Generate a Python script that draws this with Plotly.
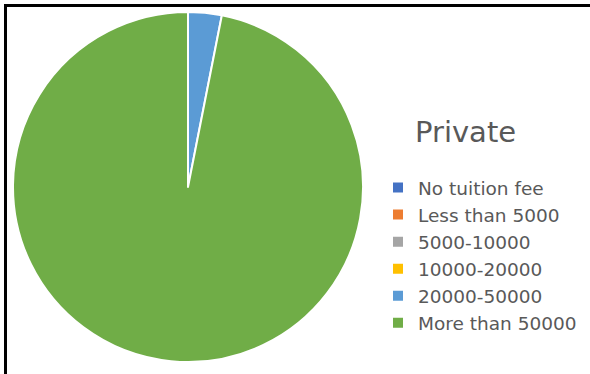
import plotly.graph_objects as go

# Tuition fee bands for private institutions (share of institutions, %)
fee_bands = ["No tuition fee", "Less than 5000", "5000-10000",
             "10000-20000", "20000-50000", "More than 50000"]
shares = [0, 0, 0, 0, 3.1, 96.9]
band_colors = ["#4472C4", "#ED7D31", "#A5A5A5", "#FFC000", "#5B9BD5", "#70AD47"]

W, H = 590, 374
TEXT_FONT = "DejaVu Sans"

fig = go.Figure(
    go.Pie(
        labels=fee_bands,
        values=shares,
        sort=False,
        direction="clockwise",
        rotation=0,
        marker=dict(colors=band_colors, line=dict(color="white", width=2)),
        textinfo="none",
        hoverinfo="label+percent",
        showlegend=True,
        domain=dict(x=[13 / W, 363 / W], y=[1 - 362 / H, 1 - 12 / H]),
    )
)

# Frame lines along the top and left edges
fig.add_shape(type="line", xref="paper", yref="paper",
              x0=4 / W, x1=1, y0=1 - 5.5 / H, y1=1 - 5.5 / H,
              line=dict(color="black", width=3))
fig.add_shape(type="line", xref="paper", yref="paper",
              x0=5.5 / W, x1=5.5 / W, y0=0, y1=1 - 4 / H,
              line=dict(color="black", width=3))

fig.add_annotation(text="Private", xref="paper", yref="paper",
                   x=465 / W, y=1 - 132 / H, xanchor="center", yanchor="middle",
                   showarrow=False,
                   font=dict(family=TEXT_FONT, size=29, color="#595959"))

fig.update_layout(
    width=W, height=H,
    margin=dict(l=0, r=0, t=0, b=0),
    paper_bgcolor="white",
    plot_bgcolor="white",
    legend=dict(
        x=378 / W, y=1 - 169 / H, xanchor="left", yanchor="top",
        font=dict(family=TEXT_FONT, size=18.5, color="#595959"),
        traceorder="normal",
        itemwidth=30,
        tracegroupgap=0,
        bgcolor="rgba(0,0,0,0)",
    ),
)

fig.write_html("out.html")
